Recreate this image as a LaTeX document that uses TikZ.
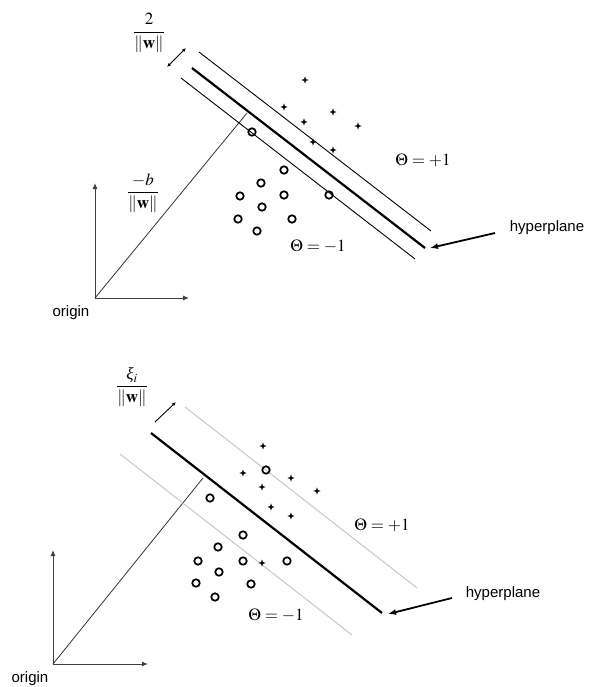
\documentclass[tikz,border=0pt]{standalone}
\usepackage{mathptmx}
\usepackage{fontspec}
\setsansfont{Liberation Sans}
\newfontfamily\tnrfont{Liberation Serif}
\usetikzlibrary{arrows.meta}
\tikzset{
  hyper/.style={line width=2.2pt, black},
  margin/.style={line width=0.9pt, black},
  softmargin/.style={line width=1pt, color=black!22},
  perp/.style={line width=0.8pt, black!80},
  axis/.style={line width=1pt, black!75, -{Latex[length=6pt,width=5pt]}},
  pointer/.style={line width=1.8pt, black, -{Latex[length=8pt,width=6pt]}},
  dist/.style={line width=0.9pt, black, {Latex[length=4pt,width=3.5pt]}-{Latex[length=4pt,width=3.5pt]}},
  distone/.style={line width=0.9pt, black, -{Latex[length=4pt,width=3.5pt]}},
  lbl/.style={inner sep=0pt, font=\sffamily\fontsize{15}{18}\selectfont},
  mlbl/.style={inner sep=0pt, font=\fontsize{17}{20}\selectfont},
  circ/.style={circle, draw=black, line width=1.7pt, minimum size=7.5pt, inner sep=0pt},
}
\newcommand{\plusmark}[1]{\fill[black] #1 +(-3.6,0) -- +(-0.9,-0.9) -- +(0,-3.6) -- +(0.9,-0.9) -- +(3.6,0) -- +(0.9,0.9) -- +(0,3.6) -- +(-0.9,0.9) -- cycle;}
\begin{document}
\begin{tikzpicture}[x=1pt,y=-1pt]
\useasboundingbox (0,0) rectangle (591,687);

% ================= TOP =================
\coordinate (o1) at (95,298);
\coordinate (ax1y) at (95,183);
\coordinate (ax1x) at (189,298);
\coordinate (p1) at (247,113);
\coordinate (h1a) at (192,68);
\coordinate (h1b) at (425,248);
\coordinate (u1a) at (199,52);
\coordinate (u1b) at (431,231);
\coordinate (l1a) at (181,78);
\coordinate (l1b) at (415,259);
\coordinate (d1a) at (167,67);
\coordinate (d1b) at (186,48);
\coordinate (ar1s) at (495,233);
\coordinate (ar1e) at (430,248);

\draw[axis] (o1) -- (ax1y);
\draw[axis] (o1) -- (ax1x);
\draw[perp] (o1) -- (p1);
\draw[margin] (u1a) -- (u1b);
\draw[margin] (l1a) -- (l1b);
\draw[hyper] (h1a) -- (h1b);
\draw[dist] (d1a) -- (d1b);
\draw[pointer] (ar1s) -- (ar1e);

\node[mlbl] (f1) at (149,33) {$\displaystyle\frac{2}{\|\mathbf{w}\|}$};
\node[mlbl] (f2) at (143,193) {$\displaystyle\frac{-b}{\|\mathbf{w}\|}$};
\node[mlbl] (t1p) at (423,160) {$\Theta = +1$};
\node[mlbl] (t1m) at (318,246) {$\Theta = -1$};
\node[lbl] (hp1) at (547,228) {hyperplane};
\node[lbl] (or1) at (71,313) {origin};

\foreach \p in {(305,80),(284,107),(333,112),(304,122),(358,126),(313,142),(333,150)} {\plusmark{\p}}
\foreach \p/\n in {(252,132)/a1,(284,170)/a2,(261,183)/a3,(240,196)/a4,(284,195)/a5,(329,195)/a6,(262,207)/a7,(238,219)/a8,(292,219)/a9,(257,231)/a10}
  {\node[circ] (c\n) at \p {};}

% ================= BOTTOM =================
\coordinate (o2) at (53,664);
\coordinate (ax2y) at (53,550);
\coordinate (ax2x) at (148,664);
\coordinate (p2) at (203,478);
\coordinate (h2a) at (151,433);
\coordinate (h2b) at (382,613);
\coordinate (u2a) at (185,407);
\coordinate (u2b) at (417,588);
\coordinate (l2a) at (120,454);
\coordinate (l2b) at (352,635);
\coordinate (d2a) at (155,422);
\coordinate (d2b) at (176,402);
\coordinate (ar2s) at (452,598);
\coordinate (ar2e) at (388,614);

\draw[axis] (o2) -- (ax2y);
\draw[axis] (o2) -- (ax2x);
\draw[perp] (o2) -- (p2);
\draw[softmargin] (u2a) -- (u2b);
\draw[softmargin] (l2a) -- (l2b);
\draw[hyper] (h2a) -- (h2b);
\draw[distone] (d2a) -- (d2b);
\draw[pointer] (ar2s) -- (ar2e);

\node[mlbl] (f3) at (132,387) {$\displaystyle\frac{\mbox{\tnrfont\itshape ξ}_i}{\|\mathbf{w}\|}$};
\node[mlbl] (t2p) at (382,525) {$\Theta = +1$};
\node[mlbl] (t2m) at (276,615) {$\Theta = -1$};
\node[lbl] (hp2) at (503,594) {hyperplane};
\node[lbl] (or2) at (30,679) {origin};

\foreach \p in {(263,446),(243,473),(291,478),(262,487),(317,491),(271,507),(291,516),(262,563)} {\plusmark{\p}}
\foreach \p/\n in {(266,470)/b1,(210,498)/b2,(243,535)/b3,(218,547)/b4,(198,561)/b5,(243,561)/b6,(287,561)/b7,(219,572)/b8,(196,583)/b9,(251,584)/b10,(215,597)/b11}
  {\node[circ] (c\n) at \p {};}
\end{tikzpicture}
\end{document}
